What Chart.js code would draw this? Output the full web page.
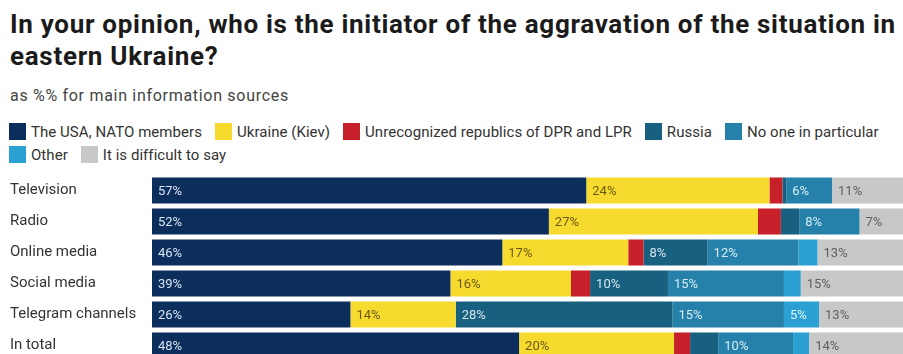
<!DOCTYPE html>
<html>
<head>
<meta charset="utf-8">
<script src="https://cdn.jsdelivr.net/npm/chart.js@4/dist/chart.umd.min.js"></script>
<style>
  html, body { margin:0; padding:0; background:#fff; }
  body { width:903px; height:354px; overflow:hidden; position:relative; font-family: Roboto, "Liberation Sans", sans-serif; }
  #title { position:absolute; left:10px; top:8px; width:893px; font-weight:bold; font-size:26px; line-height:32px; letter-spacing:0.7px; color:#1b1b1b; white-space:nowrap; }
  #sub { position:absolute; left:10px; top:86px; font-size:16px; letter-spacing:0.7px; color:#444; white-space:nowrap; }
  #legend { position:absolute; left:9px; top:123px; width:892px; display:flex; flex-wrap:wrap; row-gap:6px; font-size:15px; letter-spacing:0.05px; color:#333; }
  .li { display:flex; align-items:center; height:17px; margin-right:13px; white-space:nowrap; }
  .sw { width:17px; height:17px; margin-right:5px; flex:none; }
  #wrap { position:absolute; left:0; top:166px; width:903px; height:204px; }
</style>
</head>
<body>
<div id="title">In your opinion, who is the initiator of the aggravation of the situation in<br>eastern Ukraine?</div>
<div id="sub">as %% for main information sources</div>
<div id="legend"></div>
<div id="wrap"><canvas id="c" width="903" height="204"></canvas></div>
<script>
// ---- data (percent) ----
const categories = ["Television", "Radio", "Online media", "Social media", "Telegram channels", "In total"];
const seriesNames = ["The USA, NATO members", "Ukraine (Kiev)", "Unrecognized republics of DPR and LPR", "Russia", "No one in particular", "Other", "It is difficult to say"];
const usaNato   = [56.9, 52.0, 45.9, 39.1, 26.0, 48.1];
const ukraine   = [24.0, 27.4, 16.5, 15.8, 13.8, 20.3];
const dprLpr    = [1.7, 3.0, 2.0, 2.5, 0.0, 2.1];
const russia    = [0.5, 2.4, 8.4, 10.2, 28.4, 3.7];
const noOne     = [6.0, 7.9, 11.9, 15.2, 14.6, 9.8];
const other     = [0.0, 0.0, 2.5, 2.2, 4.6, 2.1];
const difficult = [10.9, 7.4, 12.8, 15.0, 12.7, 13.9];

const colors = ["#0c2e5d", "#f7da2e", "#c8202b", "#18607f", "#2581a9", "#2ba0d3", "#c8c8c8"];
const labelColors = ["#d9e4f0", "#6a5a12", "#ffffff", "#d3e5ef", "#d6ebf5", "#dff1fa", "#5e5e5e"];
const seriesData = [usaNato, ukraine, dprLpr, russia, noOne, other, difficult];

// legend (HTML)
const lg = document.getElementById('legend');
seriesNames.forEach((n, i) => {
  const d = document.createElement('div'); d.className = 'li';
  const s = document.createElement('span'); s.className = 'sw'; s.style.background = colors[i];
  const t = document.createElement('span'); t.textContent = n;
  d.appendChild(s); d.appendChild(t); lg.appendChild(d);
});

const valueLabels = {
  id: 'valueLabels',
  afterDatasetsDraw(chart) {
    const ctx = chart.ctx;
    ctx.save();
    ctx.font = '13px Roboto, sans-serif';
    ctx.textAlign = 'left';
    ctx.textBaseline = 'middle';
    chart.data.datasets.forEach((ds, di) => {
      const meta = chart.getDatasetMeta(di);
      meta.data.forEach((el, i) => {
        const v = ds.data[i];
        if (v < 4.5) return;
        const left = Math.min(el.x, el.base);
        ctx.fillStyle = labelColors[di];
        ctx.fillText(Math.round(v) + '%', left + 6, el.y + 1);
      });
    });
    ctx.restore();
  }
};

new Chart(document.getElementById('c'), {
  type: 'bar',
  data: {
    labels: categories,
    datasets: seriesData.map((d, i) => ({
      label: seriesNames[i],
      data: d,
      backgroundColor: colors[i],
      borderWidth: 0,
      barPercentage: 0.84,
      categoryPercentage: 1.0,
      clip: false
    }))
  },
  options: {
    indexAxis: 'y',
    responsive: false,
    animation: false,
    devicePixelRatio: 1,
    layout: { padding: { left: 10, right: 0, top: 0, bottom: 0 } },
    plugins: { legend: { display: false }, tooltip: { enabled: false }, title: { display: false } },
    scales: {
      x: { stacked: true, min: 0, max: 98.4, display: false },
      y: {
        stacked: true,
        grid: { display: false },
        border: { display: false },
        ticks: { crossAlign: 'far', color: '#333', font: { family: 'Roboto', size: 15 }, padding: 0 },
        afterFit(scale) { scale.width = 142; }
      }
    }
  },
  plugins: [valueLabels]
});
</script>
</body>
</html>
